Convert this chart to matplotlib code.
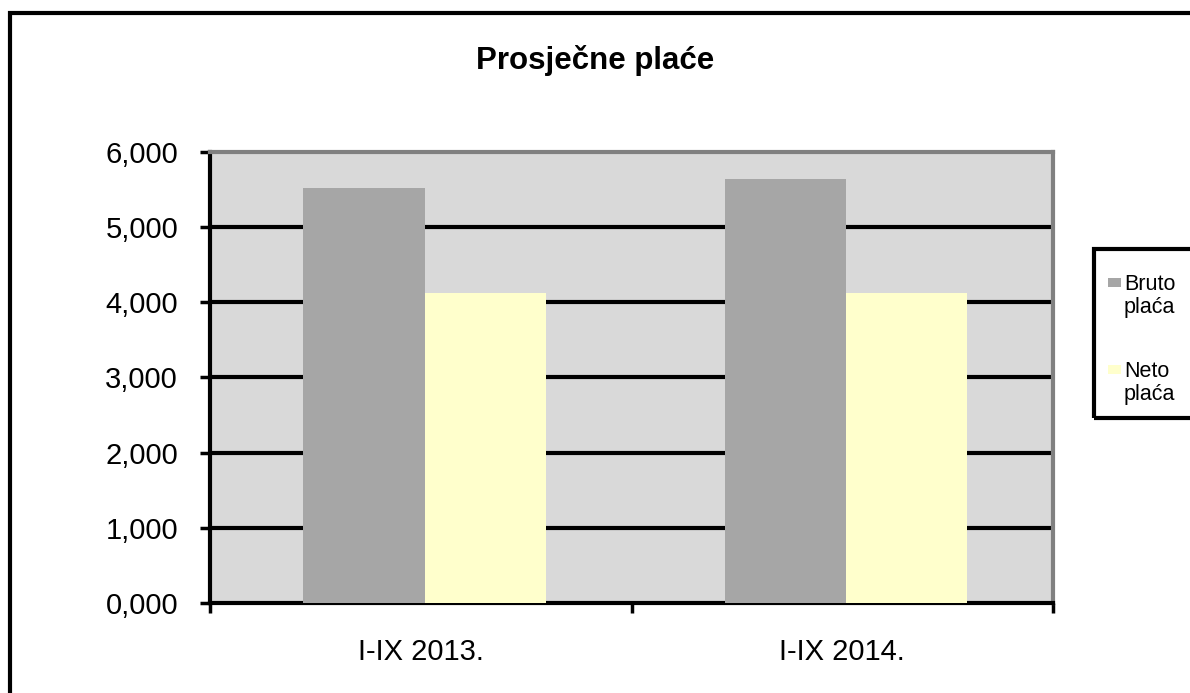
import matplotlib.pyplot as plt
import numpy as np
from matplotlib.patches import Rectangle
from matplotlib.ticker import FuncFormatter

plt.rcParams['font.family'] = ['Liberation Sans', 'DejaVu Sans']

kategorije = ['I-IX 2013.', 'I-IX 2014.']
bruto = [5.515, 5.635]
neto = [4.12, 4.125]
serije = ['Bruto\nplaća', 'Neto\nplaća']
boje = ['#a6a6a6', '#ffffcc']

fig = plt.figure(figsize=(11.9, 6.93), dpi=100)
ax = fig.add_axes([0.1765, 0.1299, 0.7084, 0.6508])
ax.set_facecolor('#d9d9d9')

x = np.arange(len(kategorije))
w = 0.288
ax.bar(x - w/2 + 0.009, bruto, w, color=boje[0], zorder=3)
ax.bar(x + w/2 + 0.009, neto, w, color=boje[1], zorder=3)

ax.set_xlim(-0.5, 1.5)
ax.set_ylim(0, 6)
ax.set_yticks(np.arange(0, 7, 1))
ax.yaxis.set_major_formatter(FuncFormatter(lambda v, p: f"{v:.3f}".replace('.', ',')))
for yv in range(1, 6):
    ax.axhline(yv, color='black', lw=3, zorder=2)

ax.set_xticks([-0.5, 0.5, 1.5])
ax.set_xticklabels([])
ax.set_xticks(x, minor=True)
ax.set_xticklabels(kategorije, minor=True)
ax.tick_params(axis='x', which='major', direction='out', length=7, width=2.5)
ax.tick_params(axis='x', which='minor', length=0, pad=25, labelsize=21)
ax.tick_params(axis='y', direction='out', length=7, width=2.5, pad=16, labelsize=21)

ax.spines['left'].set_linewidth(3)
ax.spines['bottom'].set_linewidth(3)
ax.spines['top'].set_color('#808080')
ax.spines['top'].set_linewidth(3)
ax.spines['right'].set_color('#808080')
ax.spines['right'].set_linewidth(3)

fig.text(0.5, 1 - 60/693, 'Prosječne plaće', ha='center', va='center', fontsize=22.5, fontweight='bold')

# okvir grafikona
fig.patches.append(Rectangle((10/1190, -0.1), 1.2, 1 - 13/693 + 0.1, transform=fig.transFigure,
                             fill=False, ec='black', lw=3))

# legenda
fig.patches.append(Rectangle((1094/1190, 1 - 418/693), 0.2, 169/693, transform=fig.transFigure,
                             fill=False, ec='black', lw=3, zorder=5))
for i, (s, c) in enumerate(zip(serije, boje)):
    y0 = 277 + i * 87
    fig.patches.append(Rectangle((1108/1190, 1 - (y0 + 10)/693), 13/1190, 9/693,
                                 transform=fig.transFigure, color=c, lw=0))
    fig.text(1124/1190, 1 - (y0 - 3)/693, s, ha='left', va='top', fontsize=15.5, linespacing=1.15)

plt.savefig('out.png', dpi=100)
